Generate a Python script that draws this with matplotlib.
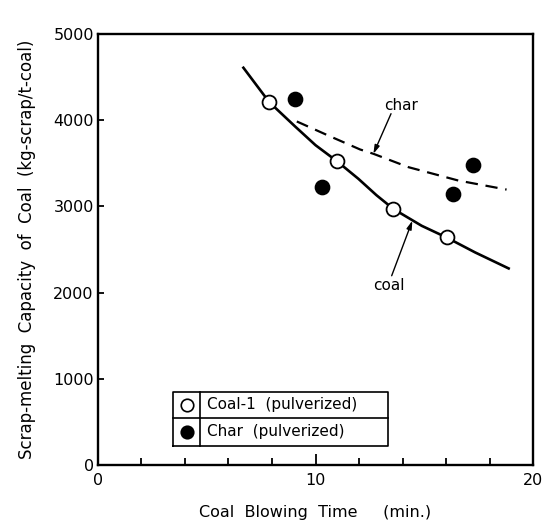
import numpy as np
import matplotlib
matplotlib.use("Agg")
import matplotlib.pyplot as plt

# measured points
coal_x = [7.87, 10.98, 13.58, 16.02]
coal_y = [4210, 3525, 2970, 2640]
char_x = [9.07, 10.28, 16.33, 17.25]
char_y = [4240, 3225, 3145, 3480]

# fitted curves as drawn in the figure
coal_fit_x = [6.65, 7.87, 9.07, 10.0, 10.98, 11.97, 12.8, 13.58, 14.88, 16.02, 17.33, 18.93]
coal_fit_y = [4620, 4210, 3925, 3710, 3525, 3320, 3130, 2970, 2775, 2640, 2467, 2274]
char_fit_x = [9.14, 10.6, 12.05, 12.66, 14.27, 16.56, 18.78]
char_fit_y = [3985, 3820, 3660, 3610, 3455, 3300, 3195]

xticks = [0, 10, 20]
yticks = [0, 1000, 2000, 3000, 4000, 5000]

plt.rcParams['font.family'] = ['DejaVu Sans']

fig = plt.figure(figsize=(5.44, 5.22), dpi=100)
ax = fig.add_axes([0.180, 0.109, 0.800, 0.826])

ax.plot(coal_fit_x, coal_fit_y, color='black', lw=1.9, solid_capstyle='butt',
        solid_joinstyle='round', zorder=2)
ax.plot(char_fit_x, char_fit_y, color='black', lw=1.6, dashes=(5.5, 3.5), zorder=2)

ax.plot(coal_x, coal_y, 'o', ms=10, mfc='white', mec='black', mew=1.3, zorder=3)
ax.plot(char_x, char_y, 'o', ms=10, mfc='black', mec='black', mew=1.3, zorder=3)

# curve labels with arrows
arrow = dict(arrowstyle='-|>,head_length=0.5,head_width=0.15', color='black', lw=1.0,
             shrinkA=0, shrinkB=0)
ax.annotate('', xy=(12.66, 3610), xytext=(13.47, 4075), arrowprops=arrow)
ax.annotate('', xy=(14.45, 2834), xytext=(13.5, 2196), arrowprops=arrow)
ax.text(13.92, 4170, 'char', ha='center', va='center', fontsize=11)
ax.text(13.39, 2085, 'coal', ha='center', va='center', fontsize=11)

# legend drawn as a little table
lx0, lx1, lxm = 3.44, 13.35, 4.71
ly0, ly1, lym = 224, 850, 542
ax.plot([lx0, lx1, lx1, lx0, lx0], [ly0, ly0, ly1, ly1, ly0], color='black', lw=1.2)
ax.plot([lx0, lx1], [lym, lym], color='black', lw=1.2)
ax.plot([lxm, lxm], [ly0, ly1], color='black', lw=1.2)
ax.plot([4.08], [696], 'o', ms=9, mfc='white', mec='black', mew=1.2)
ax.plot([4.08], [383], 'o', ms=9, mfc='black', mec='black', mew=1.2)
ax.text(5.0, 700, 'Coal-1  (pulverized)', ha='left', va='center', fontsize=11)
ax.text(5.0, 387, 'Char  (pulverized)', ha='left', va='center', fontsize=11)

ax.set_xlim(0, 20)
ax.set_ylim(0, 5000)
ax.set_xticks(xticks)
ax.set_xticks([2, 4, 6, 8, 12, 14, 16, 18], minor=True)
ax.set_yticks(yticks)
ax.tick_params(axis='x', which='major', direction='in', length=8, width=1.3,
               labelsize=11.5, pad=6)
ax.tick_params(axis='x', which='minor', direction='in', length=5, width=1.3)
ax.tick_params(axis='y', direction='in', length=4, width=1.3, labelsize=11.5, pad=3)
for s in ax.spines.values():
    s.set_linewidth(1.7)

ax.set_xlabel('Coal  Blowing  Time     (min.)', fontsize=11.5, labelpad=12)
ax.set_ylabel('Scrap-melting  Capacity  of  Coal  (kg-scrap/t-coal)', fontsize=12,
              labelpad=12)

fig.savefig('out.png', dpi=100)
